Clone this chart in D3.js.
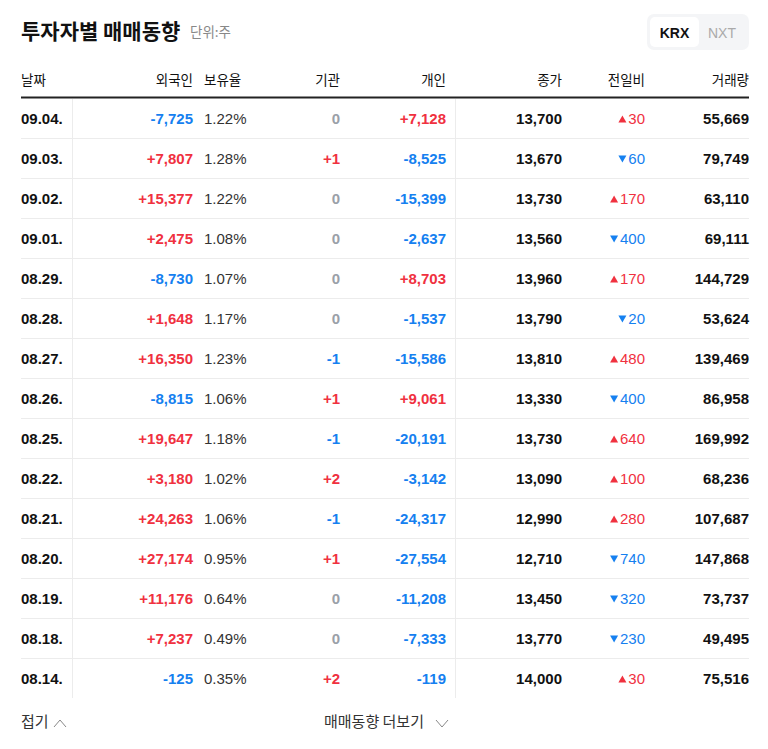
<!DOCTYPE html>
<html><head><meta charset="utf-8">
<script src="https://cdn.jsdelivr.net/npm/d3@7"></script>
<style>body{margin:0;background:#fff}svg{display:block}</style>
</head><body>
<script>
const dates=["09.04.","09.03.","09.02.","09.01.","08.29.","08.28.","08.27.","08.26.","08.25.","08.22.","08.21.","08.20.","08.19.","08.18.","08.14."];
const foreign=[-7725,7807,15377,2475,-8730,1648,16350,-8815,19647,3180,24263,27174,11176,7237,-125];
const holding=["1.22%","1.28%","1.22%","1.08%","1.07%","1.17%","1.23%","1.06%","1.18%","1.02%","1.06%","0.95%","0.64%","0.49%","0.35%"];
const inst=[0,1,0,0,0,0,-1,1,-1,2,-1,1,0,0,2];
const indiv=[7128,-8525,-15399,-2637,8703,-1537,-15586,9061,-20191,-3142,-24317,-27554,-11208,-7333,-119];
const close=[13700,13670,13730,13560,13960,13790,13810,13330,13730,13090,12990,12710,13450,13770,14000];
const change=[30,-60,170,-400,170,-20,480,-400,640,100,280,-740,-320,-230,30];
const volume=[55669,79749,63110,69111,144729,53624,139469,86958,169992,68236,107687,147868,73737,49495,75516];
const headers=["날짜","외국인","보유율","기관","개인","종가","전일비","거래량"];

const W=768,H=749,RED="#f0313f",BLUE="#1580f0",GRAY="#9aa0a8",DARK="#111";
const KR="'Noto Sans CJK KR','Noto Sans',sans-serif", NUM="'Liberation Sans',Arial,sans-serif";
const svg=d3.select("body").append("svg").attr("width",W).attr("height",H);
const y=d3.scaleBand().domain(d3.range(dates.length)).range([98,698]);
const fmt=d3.format(",");
const sgn=v=>v>0?"+"+fmt(v):v<0?"-"+fmt(-v):"0";
const col=v=>v>0?RED:v<0?BLUE:GRAY;

svg.append("text").attr("x",21).attr("y",39).attr("font-family",KR).attr("font-weight",700).attr("font-size",21).attr("fill",DARK).text("투자자별 매매동향");
svg.append("text").attr("x",190).attr("y",37).attr("font-family",KR).attr("font-size",13.5).attr("fill","#888").text("단위:주");
svg.append("rect").attr("x",647).attr("y",14).attr("width",102).attr("height",36).attr("rx",7).attr("fill","#f4f5f7");
svg.append("rect").attr("x",650).attr("y",17).attr("width",49).attr("height",30).attr("rx",5).attr("fill","#fff");
svg.append("text").attr("x",674.5).attr("y",38).attr("text-anchor","middle").attr("font-family",NUM).attr("font-weight",700).attr("font-size",14).attr("fill",DARK).text("KRX");
svg.append("text").attr("x",722).attr("y",38).attr("text-anchor","middle").attr("font-family",NUM).attr("font-size",14).attr("fill","#aaa").text("NXT");

const hx=[[21,"start"],[193,"end"],[204,"start"],[340,"end"],[446,"end"],[562,"end"],[645,"end"],[749,"end"]];
headers.forEach((h,i)=>svg.append("text").attr("x",hx[i][0]).attr("y",85).attr("text-anchor",hx[i][1]).attr("font-family",KR).attr("font-size",13.5).attr("fill",DARK).text(h));
svg.append("line").attr("x1",21).attr("x2",749).attr("y1",97.5).attr("y2",97.5).attr("stroke","#222").attr("stroke-width",2);
[72.5,455.5].forEach(x=>svg.append("line").attr("x1",x).attr("x2",x).attr("y1",99).attr("y2",698).attr("stroke","#ececec"));

const rows=svg.selectAll("g.r").data(dates).join("g").attr("transform",(d,i)=>`translate(0,${y(i)})`);
rows.filter((d,i)=>i>0).append("line").attr("x1",21).attr("x2",749).attr("y1",0.5).attr("y2",0.5).attr("stroke","#ececec");
const cy=y.bandwidth()/2+5.5;
function t(sel,x,anchor,txt,fill,bold,font){return sel.append("text").attr("x",x).attr("y",cy).attr("text-anchor",anchor).attr("font-family",font||NUM).attr("font-weight",bold?700:400).attr("font-size",15).attr("fill",fill).text(txt);}
rows.each(function(d,i){
  const g=d3.select(this);
  t(g,21,"start",d,DARK,true);
  t(g,193,"end",sgn(foreign[i]),col(foreign[i]),true);
  t(g,204,"start",holding[i],"#333",false);
  t(g,340,"end",sgn(inst[i]),col(inst[i]),true);
  t(g,446,"end",sgn(indiv[i]),col(indiv[i]),true);
  t(g,562,"end",fmt(close[i]),DARK,true);
  const c=change[i];
  t(g,645,"end",fmt(Math.abs(c)),c>0?RED:BLUE,false);
  const tw=String(fmt(Math.abs(c))).length*8.3;
  const ax=645-tw-6;
  g.append("path").attr("d",c>0?`M${ax-4},${cy-1}L${ax+4},${cy-1}L${ax},${cy-8}Z`:`M${ax-4},${cy-8}L${ax+4},${cy-8}L${ax},${cy-1}Z`).attr("fill",c>0?RED:BLUE);
  t(g,749,"end",fmt(volume[i]),DARK,true);
});
svg.append("text").attr("x",21).attr("y",727).attr("font-family",KR).attr("font-size",15).attr("fill","#333").text("접기");
svg.append("path").attr("d","M54,727L60,720L66,727").attr("fill","none").attr("stroke","#888");
svg.append("text").attr("x",324).attr("y",727).attr("font-family",KR).attr("font-size",15).attr("fill","#333").text("매매동향 더보기");
svg.append("path").attr("d","M436,720L442,727L448,720").attr("fill","none").attr("stroke","#888");
</script>
</body></html>
